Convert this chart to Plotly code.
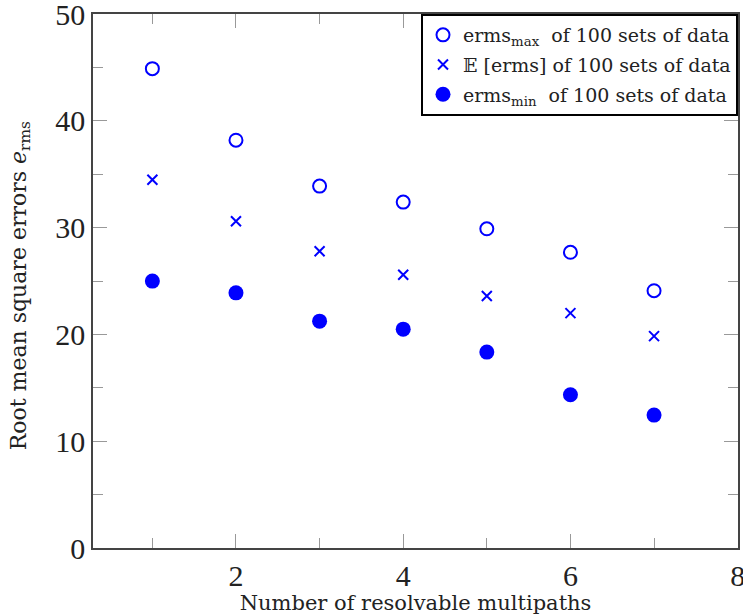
import plotly.graph_objects as go

# Number of resolvable multipaths
paths = [1, 2, 3, 4, 5, 6, 7]

# RMS error statistics over 100 data sets
erms_max = [44.9, 38.2, 33.9, 32.4, 29.9, 27.7, 24.1]
erms_mean = [34.5, 30.6, 27.8, 25.6, 23.6, 22.0, 19.85]
erms_min = [25.0, 23.9, 21.25, 20.5, 18.35, 14.35, 12.45]

x_ticks = [2, 4, 6, 8]
y_ticks = [0, 10, 20, 30, 40, 50]

BLUE = "#0000ff"
SERIF = "Liberation Serif, DejaVu Serif, serif"
WIDE_SERIF = "DejaVu Serif, Liberation Serif, serif"

fig = go.Figure()
fig.add_trace(go.Scatter(
    x=paths, y=erms_max, mode="markers", legendgroup="max",
    name="erms<sub>max</sub>  of 100 sets of data",
    marker=dict(symbol="circle-open", size=13, color=BLUE, line=dict(width=2, color=BLUE)),
))
fig.add_trace(go.Scatter(
    x=paths, y=erms_mean, mode="markers", legendgroup="mean",
    name="\U0001D53C [erms] of 100 sets of data",
    marker=dict(symbol="x-thin-open", size=10, color=BLUE, line=dict(width=2, color=BLUE)),
))
fig.add_trace(go.Scatter(
    x=paths, y=erms_min, mode="markers", legendgroup="min",
    name="erms<sub>min</sub>  of 100 sets of data",
    marker=dict(symbol="circle", size=15, color=BLUE),
))

axis_common = dict(
    showline=True, linecolor="#444444", linewidth=1.5, mirror="allticks",
    ticks="inside", ticklen=14, tickcolor="#999999", tickwidth=1.3,
    showgrid=False, zeroline=False, ticklabeloverflow="allow", automargin=False,
    tickfont=dict(family=SERIF, size=30, color="#222222"),
)

fig.update_layout(
    width=743, height=615,
    margin=dict(l=93, r=5, t=14, b=67),
    paper_bgcolor="white", plot_bgcolor="white",
    showlegend=True,
    legend=dict(
        x=1, y=1, xanchor="right", yanchor="top",
        bordercolor="#000000", borderwidth=2, bgcolor="white",
        font=dict(family=WIDE_SERIF, size=19, color="#222222"),
        itemsizing="trace", tracegroupgap=2,
    ),
    xaxis=dict(
        **axis_common, range=[0.29, 8.004], tickvals=x_ticks,
        minor=dict(ticks="inside", ticklen=10, tickcolor="#999999", dtick=1, tick0=0, showgrid=False),
        title=dict(text="Number of resolvable multipaths", standoff=0,
                   font=dict(family=WIDE_SERIF, size=21, color="#222222")),
    ),
    yaxis=dict(
        **axis_common, range=[0, 50.02], tickvals=y_ticks,
        minor=dict(ticks="inside", ticklen=10, tickcolor="#999999", dtick=5, tick0=0, showgrid=False),
    ),
)

# Vertical y-axis label placed left of the tick numbers
fig.add_annotation(
    text="Root mean square errors <i>e</i><sub>rms</sub>",
    xref="paper", yref="paper", x=0, y=0.49, xshift=-73,
    xanchor="center", yanchor="middle", textangle=-90, showarrow=False,
    font=dict(family=WIDE_SERIF, size=22, color="#222222"),
)

fig.write_html("out.html")
